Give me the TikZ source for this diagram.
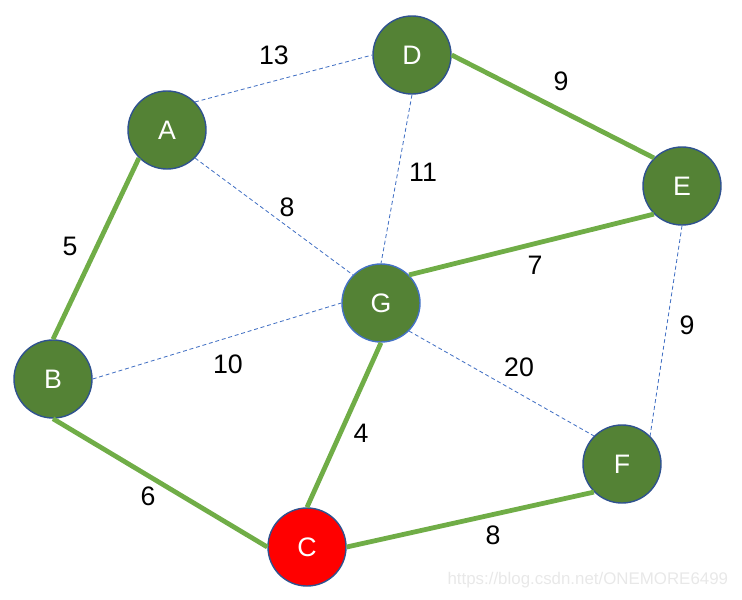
\documentclass[tikz,border=0pt]{standalone}
\usepackage{fontspec}
\setmainfont{Liberation Sans}
\definecolor{vgreen}{HTML}{548235}
\definecolor{vborder}{HTML}{2F528F}
\definecolor{vlight}{HTML}{4472C4}
\definecolor{tgreen}{HTML}{70AD47}
\tikzset{
    vertex/.style={shape=circle, draw=vborder, fill=vgreen, line width=1pt, minimum size=1.95cm, inner sep=0pt, text=white, font=\fontsize{19}{22}\selectfont},
    tree/.style={draw=tgreen, line width=3.4pt},
    other/.style={draw=vlight, line width=0.6pt, dash pattern=on 2.8pt off 2pt},
    weight/.style={font=\fontsize{19}{22}\selectfont}
}
\begin{document}
\begin{tikzpicture}[x=0.025cm, y=-0.025cm]
    \useasboundingbox (0,0) rectangle (742,599);

    \node[vertex] (A) at (167,130) {A};
    \node[vertex] (D) at (412,55) {D};
    \node[vertex] (E) at (682,186) {E};
    \node[vertex] (B) at (53,379) {B};
    \node[vertex] (F) at (622,464) {F};
    \node[vertex, fill=red] (C) at (307,547) {C};
    \node[vertex, draw=vlight] (G) at (381,303) {G};

    \path [other] (A.north east) edge (D.west);
    \path [other] (A.south east) edge (G.north west);
    \path [other] (D.south) edge (G.north);
    \path [other] (B.east) edge (G.west);
    \path [other] (G.south east) edge (F.north west);
    \path [other] (E.south) edge (F.north east);

    \path [tree] (D.east) edge (E.north west);
    \path [tree] (G.north east) edge (E.south west);
    \path [tree] (A.south west) edge (B.north);
    \path [tree] (B.south) edge (C.west);
    \path [tree] (G.south) edge (C.north);
    \path [tree] (C.east) edge (F.south west);

    \node[weight] (wAD) at (274,55) {13};
    \node[weight] (wDE) at (561,81) {9};
    \node[weight] (wDG) at (423,172) {11};
    \node[weight] (wAG) at (287,207) {8};
    \node[weight] (wAB) at (70,246) {5};
    \node[weight] (wGE) at (535,265) {7};
    \node[weight] (wEF) at (687,325) {9};
    \node[weight] (wBG) at (228,364) {10};
    \node[weight] (wGF) at (519,367) {20};
    \node[weight] (wGC) at (361,433) {4};
    \node[weight] (wBC) at (148,496) {6};
    \node[weight] (wCF) at (493,535) {8};

    \node[text=black!9, font=\fontsize{12}{14}\selectfont, anchor=east] (mark) at (733,580) {https://blog.csdn.net/ONEMORE6499};
\end{tikzpicture}
\end{document}
